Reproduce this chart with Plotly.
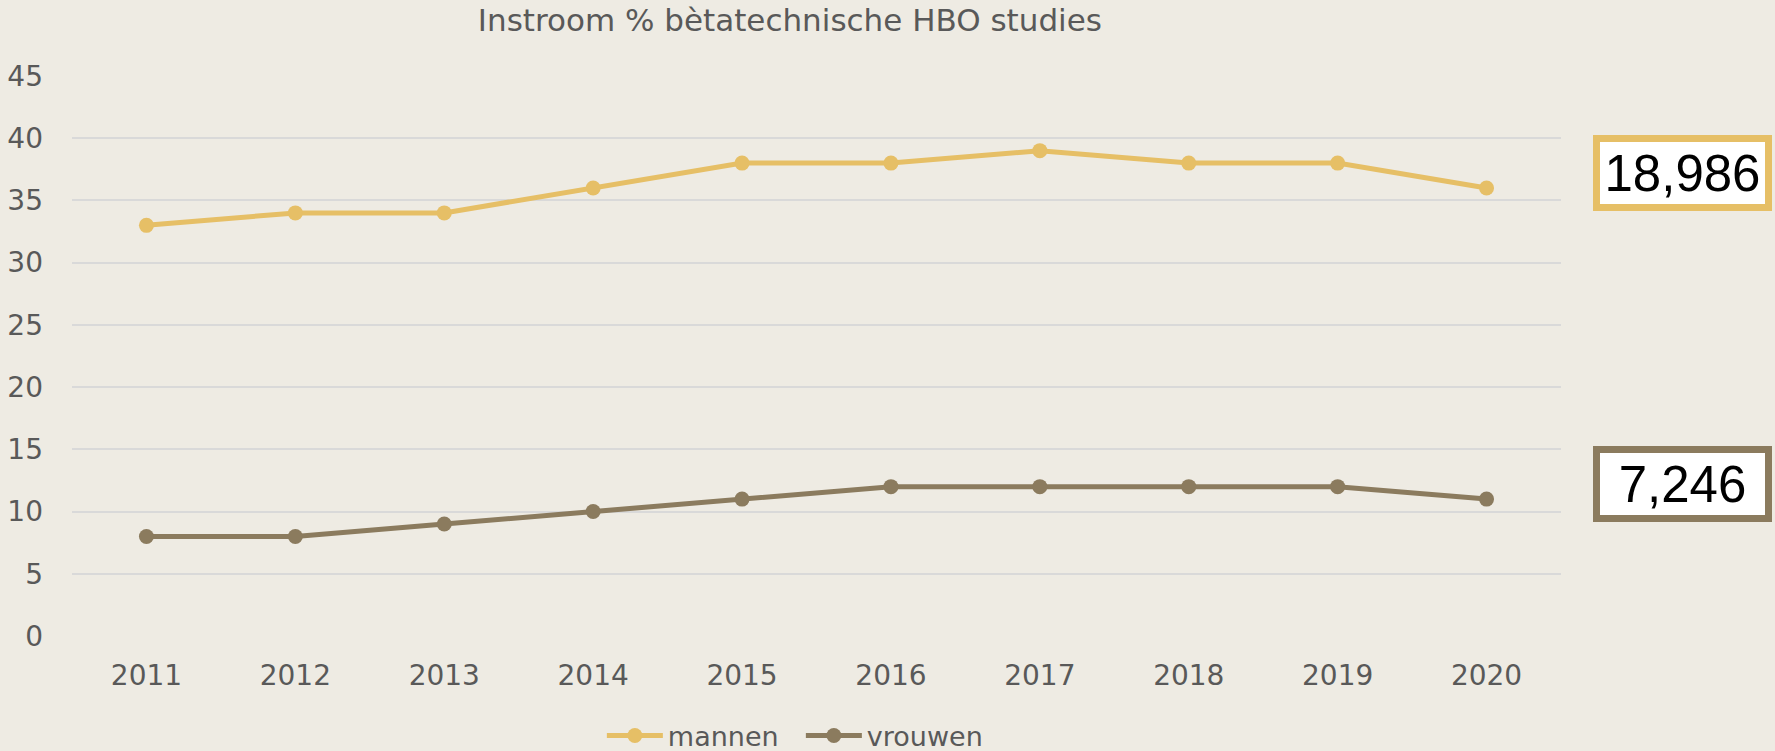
import plotly.graph_objects as go

years = ["2011", "2012", "2013", "2014", "2015", "2016", "2017", "2018", "2019", "2020"]
mannen = [33, 34, 34, 36, 38, 38, 39, 38, 38, 36]
vrouwen = [8, 8, 9, 10, 11, 12, 12, 12, 12, 11]
series_names = ["mannen", "vrouwen"]
box_labels = ["18,986", "7,246"]
title_text = "Instroom % bètatechnische HBO studies"

GOLD = "#E6BF66"
BROWN = "#8B7B5E"
BG = "#EEEBE3"
TXT = "#595959"
FONT = "DejaVu Sans"

fig = go.Figure()
for name, vals, col in [(series_names[0], mannen, GOLD), (series_names[1], vrouwen, BROWN)]:
    fig.add_trace(go.Scatter(
        x=years, y=vals, name=name, mode="lines+markers",
        line=dict(color=col, width=5),
        marker=dict(color=col, size=15),
    ))

fig.update_layout(
    width=1775, height=751,
    paper_bgcolor=BG, plot_bgcolor=BG,
    margin=dict(l=72, r=214, t=76, b=115, autoexpand=False),
    font=dict(family=FONT, color=TXT, size=28),
    title=dict(text=title_text, x=0.445, xref="container", xanchor="center",
               y=1 - 20 / 751, yref="container", yanchor="middle",
               font=dict(family=FONT, size=31, color=TXT)),
    legend=dict(orientation="h", x=0.4895, xanchor="center",
                yref="container", y=1 - 736 / 751, yanchor="middle",
                font=dict(family=FONT, size=27, color=TXT), bgcolor="rgba(0,0,0,0)",
                itemwidth=56, entrywidth=128),
    showlegend=True,
)
fig.update_xaxes(type="category", range=[-0.5, len(years) - 0.5], showgrid=False,
                 showline=False, zeroline=False, ticks="", ticklabelstandoff=20,
                 tickfont=dict(size=28, color=TXT))
fig.update_yaxes(range=[0, 45], dtick=5, showgrid=True, gridcolor="#D9D9D9", gridwidth=2,
                 zeroline=False, showline=False, ticks="", ticklabelstandoff=28,
                 tickfont=dict(size=28, color=TXT))

for label, col, yp in [(box_labels[0], GOLD, (636 - 172.5) / 560), (box_labels[1], BROWN, (636 - 484) / 560)]:
    fig.add_annotation(
        text=label, xref="paper", yref="paper", x=(1682.5 - 72) / 1489, y=yp,
        xanchor="center", yanchor="middle", showarrow=False,
        font=dict(family="Liberation Sans", size=51, color="#000000"),
        bgcolor="#FFFFFF", bordercolor=col, borderwidth=7, borderpad=0,
        width=165, height=62,
    )

fig.write_html("out.html", config={"displayModeBar": False},
               post_script="document.body.style.margin='0';document.body.style.overflow='hidden';")
